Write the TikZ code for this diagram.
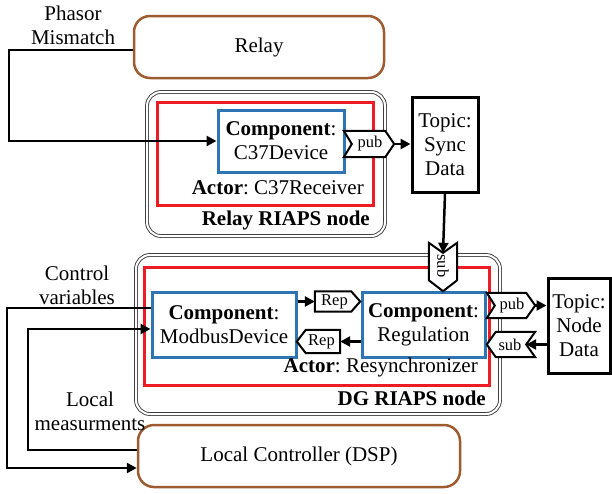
\documentclass[tikz,border=0pt]{standalone}
\usepackage{fontspec}
\usepackage{graphicx}
\setmainfont{Liberation Serif}
\usetikzlibrary{arrows.meta,calc}
\definecolor{hwbrown}{RGB}{158,91,48}
\definecolor{actorred}{RGB}{237,28,36}
\definecolor{compblue}{RGB}{46,117,182}
\frenchspacing

% outlines of the port tags, drawn around plain text nodes
\newcommand\tagRnotch[1]{\draw[tagline] (#1.north west) -- ([xshift=-9pt]#1.north east) -- (#1.east) -- ([xshift=-9pt]#1.south east) -- (#1.south west) -- ([xshift=8pt]#1.west) -- cycle;}
\newcommand\tagLnotch[1]{\draw[tagline] (#1.north east) -- ([xshift=9pt]#1.north west) -- (#1.west) -- ([xshift=9pt]#1.south west) -- (#1.south east) -- ([xshift=-9pt]#1.east) -- cycle;}
\newcommand\tagRplain[1]{\draw[tagline] (#1.north west) -- ([xshift=-9pt]#1.north east) -- (#1.east) -- ([xshift=-9pt]#1.south east) -- (#1.south west) -- cycle;}
\newcommand\tagLplain[1]{\draw[tagline] (#1.north east) -- ([xshift=9pt]#1.north west) -- (#1.west) -- ([xshift=9pt]#1.south west) -- (#1.south east) -- cycle;}
\newcommand\tagDnotch[1]{\draw[tagline] (#1.north west) -- ([yshift=-10pt]#1.north) -- (#1.north east) -- ([yshift=11pt]#1.south east) -- (#1.south) -- ([yshift=11pt]#1.south west) -- cycle;}

\begin{document}
\begin{tikzpicture}[x=1pt,y=-1pt,
  font=\fontsize{21}{24}\selectfont,
  hwbox/.style={draw=hwbrown, line width=2.5pt, rounded corners=16pt, inner sep=0pt},
  riaps/.style={draw=black!75, double=white, double distance=2pt, line width=0.9pt, rounded corners=14pt, inner sep=0pt},
  actorbox/.style={draw=actorred, line width=3pt, inner sep=0pt},
  compbox/.style={draw=compblue, line width=3pt, inner sep=0pt, align=center},
  topicbox/.style={draw=black, line width=3pt, inner sep=0pt, align=center},
  porttext/.style={inner sep=0pt, font=\fontsize{16.5}{18}\selectfont},
  tagline/.style={draw=black, line width=2pt, line join=miter, fill=white},
  lbl/.style={inner sep=0pt, align=center},
  conn/.style={draw=black, line width=2.5pt, line join=miter, -{Triangle[length=10pt,width=10pt]}}
]
\useasboundingbox (0,0) rectangle (612,493);

% hardware boxes
\node[hwbox, minimum width=250pt, minimum height=62pt] (relay) at (259,47) {Relay};
\node[hwbox, minimum width=322pt, minimum height=62pt] (dsp) at (299,456) {Local Controller (DSP)};

% RIAPS nodes and actors
\node[riaps, minimum width=238pt, minimum height=144pt] (relaynode) at (266,164) {};
\node[actorbox, minimum width=216pt, minimum height=103pt] (relayactor) at (265,153.5) {};
\node[riaps, minimum width=364pt, minimum height=159pt] (dgnode) at (318,334.5) {};
\node[actorbox, minimum width=345pt, minimum height=118pt] (dgactor) at (316.5,326) {};

% components
\node[compbox, minimum width=126pt, minimum height=62pt] (dev) at (281,141) {\textbf{Component}:\\C37Device};
\node[compbox, minimum width=144pt, minimum height=65pt] (modbus) at (224,324.5) {\textbf{Component}:\\ModbusDevice};
\node[compbox, minimum width=123pt, minimum height=65pt] (reg) at (423.5,324.5) {\textbf{Component}:\\Regulation};

% captions inside the nodes
\node[lbl, anchor=east] (actor1) at (364,188) {\textbf{Actor}: C37Receiver};
\node[lbl, anchor=east] (node1) at (370,220) {\textbf{Relay RIAPS node}};
\node[lbl, anchor=east] (actor2) at (478,367) {\textbf{Actor}: Resynchronizer};
\node[lbl, anchor=east] (node2) at (486,398) {\textbf{DG RIAPS node}};

% topics
\node[topicbox, minimum width=66pt, minimum height=95pt] (sync) at (445,144.5) {Topic:\\Sync\\Data};
\node[topicbox, minimum width=62pt, minimum height=95pt] (ndata) at (579,325.5) {Topic:\\Node\\Data};

% ports
\node[porttext, minimum width=50pt, minimum height=26pt] (pub1) at (369,144) {};
\tagRnotch{pub1}
\node[porttext] at ([xshift=1pt]pub1.center) {pub};

\node[porttext, minimum width=28pt, minimum height=48pt] (subv) at (443,267) {};
\tagDnotch{subv}
\node[porttext] at ([yshift=1pt]subv.center) {\rotatebox{-90}{sub}};

\node[porttext, minimum width=45pt, minimum height=20pt] (rep1) at (337.5,301.5) {};
\tagRplain{rep1}
\node[porttext] at ([xshift=-3pt]rep1.center) {Rep};

\node[porttext, minimum width=43pt, minimum height=23pt] (rep2) at (318.5,341.5) {};
\tagLplain{rep2}
\node[porttext] at ([xshift=3pt]rep2.center) {Rep};

\node[porttext, minimum width=48pt, minimum height=25pt] (pub2) at (511,305.5) {};
\tagRnotch{pub2}
\node[porttext] at ([xshift=1pt]pub2.center) {pub};

\node[porttext, minimum width=48pt, minimum height=25pt] (sub2) at (511,344.5) {};
\tagLnotch{sub2}
\node[porttext] at ([xshift=-1pt]sub2.center) {sub};

% free labels
\node[lbl] (phasorlbl) at (73,25) {Phasor\\Mismatch};
\node[lbl] (ctrllbl) at (77,285) {Control\\variables};
\node[lbl] (measlbl) at (90,411) {Local\\measurments};

% wiring corners
\coordinate (xa) at (9,0);
\coordinate (xb) at (7,0);
\coordinate (xc) at (28,0);

% connectors
\draw[conn] ([yshift=-3pt]relay.west) -- ([yshift=-3pt]relay.west -| xa) |- (dev.west);
\draw[conn] (pub1.east) -- (pub1.east -| sync.west);
\draw[conn] (sync.south) -- ([yshift=-10pt]subv.north);
\draw[conn] (modbus.east |- rep1.west) -- (rep1.west);
\draw[conn] (reg.west |- rep2.east) -- (rep2.east);
\draw[conn] (pub2.east) -- (pub2.east -| ndata.west);
\draw[conn] (sub2.east -| ndata.west) -- ([xshift=-9pt]sub2.east);
\draw[conn] ([yshift=16.5pt]modbus.west) -- ([yshift=16.5pt]modbus.west -| xb) |- ([yshift=-12pt]dsp.west);
\draw[conn] ([yshift=6pt]dsp.west) -- ([yshift=6pt]dsp.west -| xc) |- ([yshift=-4.5pt]modbus.west);
\end{tikzpicture}
\end{document}
